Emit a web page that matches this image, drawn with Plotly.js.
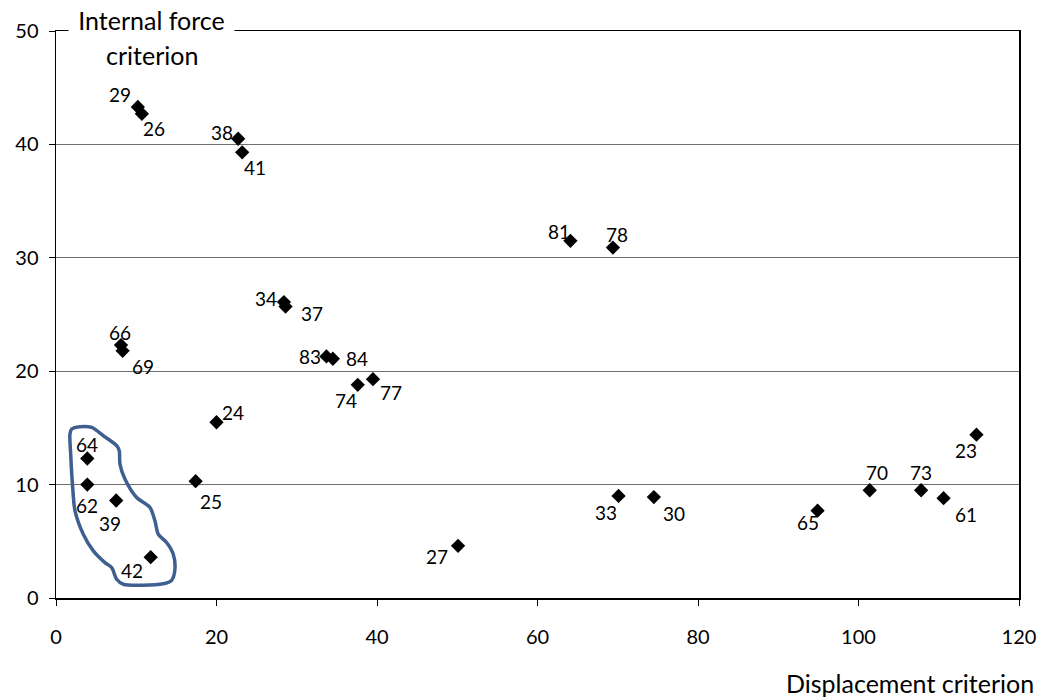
<!DOCTYPE html>
<html>
<head>
<meta charset="utf-8">
<script src="https://cdn.plot.ly/plotly-3.0.1.min.js"></script>
<style>html,body{margin:0;padding:0;background:#fff;}#chart{width:1044px;height:700px;}</style>
</head>
<body>
<div id="chart"></div>
<script>
// Data
const labels = ["29","26","38","41","81","78","34","37","66","69","83","84","74","77","24","64","62","39","42","25","27","33","30","65","70","73","61","23"];
const dispX  = [10.2,10.7,22.7,23.2,64.1,69.4,28.4,28.6,8.1,8.3,33.7,34.5,37.6,39.5,20.0,3.9,3.9,7.5,11.8,17.4,50.1,70.1,74.5,94.9,101.4,107.8,110.6,114.7];
const forceY = [43.3,42.7,40.5,39.3,31.5,30.9,26.1,25.7,22.3,21.8,21.3,21.1,18.8,19.3,15.5,12.3,10.0,8.6,3.6,10.3,4.6,9.0,8.9,7.7,9.5,9.5,8.8,14.4];

// Label offsets (px) relative to marker
const labelDx = [-18,12,-16,13,-11,4,-18,26,-1,20,-16,24,-12,18,16,0,0,-6,-19,15,-21,-13,20,-10,7,0,22,-10];
const labelDy = [-12,15,-6,15,-9,-13,-4,7,-13,16,0,0,16,13,-10,-14,21,23,13,20,11,17,16,12,-18,-18,16,16];

// Hand-drawn outline around the grouped points
const loopX = [1.96,2.99,4.45,5.89,7.56,7.88,7.97,8.59,10.05,11.71,12.33,12.74,13.78,14.61,14.82,14.41,13.36,8.38,7.56,6.94,6.10,4.65,3.40,2.37,2.08,1.83,1.74,1.96];
const loopY = [14.90,15.11,15.04,14.31,13.43,12.99,11.81,10.49,8.86,7.98,6.80,5.63,4.89,3.86,2.54,1.56,1.26,1.21,1.65,2.68,3.12,4.15,5.63,7.69,9.74,12.69,14.46,14.90];

const xTicks = [0,20,40,60,80,100,120];
const yTicks = [0,10,20,30,40,50];

const FONT = "Lato, 'Open Sans', sans-serif";

const traces = [
  {
    x: loopX, y: loopY, type: "scatter", mode: "lines",
    line: {color: "#3e5f8f", width: 3.5, shape: "spline", smoothing: 0.8},
    hoverinfo: "skip", showlegend: false
  },
  {
    x: dispX, y: forceY, type: "scatter", mode: "markers",
    marker: {symbol: "diamond", size: 11, color: "#000"},
    hoverinfo: "skip", showlegend: false
  }
];

const annotations = labels.map((t, i) => ({
  x: dispX[i], y: forceY[i], xref: "x", yref: "y", text: t, showarrow: false,
  xshift: labelDx[i], yshift: -labelDy[i],
  font: {family: FONT, size: 19, color: "#000"}
}));

annotations.push({
  xref: "paper", yref: "paper", x: (151-56)/963, y: (598-20)/567,
  text: "Internal force", showarrow: false, bgcolor: "#fff", width: 163,
  xanchor: "center", yanchor: "middle",
  font: {family: FONT, size: 25, color: "#000"}
});
annotations.push({
  xref: "paper", yref: "paper", x: (152-56)/963, y: (598-55)/567,
  text: "criterion", showarrow: false,
  xanchor: "center", yanchor: "middle",
  font: {family: FONT, size: 25, color: "#000"}
});
annotations.push({
  xref: "paper", yref: "paper", x: (1036-56)/963, y: (598-683)/567,
  text: "Displacement criterion", showarrow: false,
  xanchor: "right", yanchor: "middle",
  font: {family: FONT, size: 25, color: "#000"}
});

const layout = {
  width: 1044, height: 700,
  margin: {l: 56, r: 25, t: 31, b: 102},
  paper_bgcolor: "#fff", plot_bgcolor: "#fff",
  showlegend: false,
  font: {family: FONT, size: 20, color: "#000"},
  xaxis: {
    range: [0, 120], tickvals: xTicks, ticktext: xTicks.map(String),
    showgrid: false, zeroline: false,
    showline: true, linecolor: "#000", linewidth: 1.5, mirror: true,
    ticks: "outside", ticklen: 6, tickcolor: "#000", tickwidth: 1,
    ticklabelstandoff: 14,
    tickfont: {family: FONT, size: 20}
  },
  yaxis: {
    range: [0, 50], tickvals: yTicks, ticktext: yTicks.map(String),
    showgrid: true, gridcolor: "#6f6f6f", gridwidth: 1, zeroline: false,
    showline: true, linecolor: "#000", linewidth: 1.5, mirror: true,
    ticks: "outside", ticklen: 6, tickcolor: "#000", tickwidth: 1,
    ticklabelstandoff: 6,
    tickfont: {family: FONT, size: 20}
  },
  annotations: annotations
};

Plotly.newPlot("chart", traces, layout, {displayModeBar: false, staticPlot: true});
</script>
</body>
</html>
